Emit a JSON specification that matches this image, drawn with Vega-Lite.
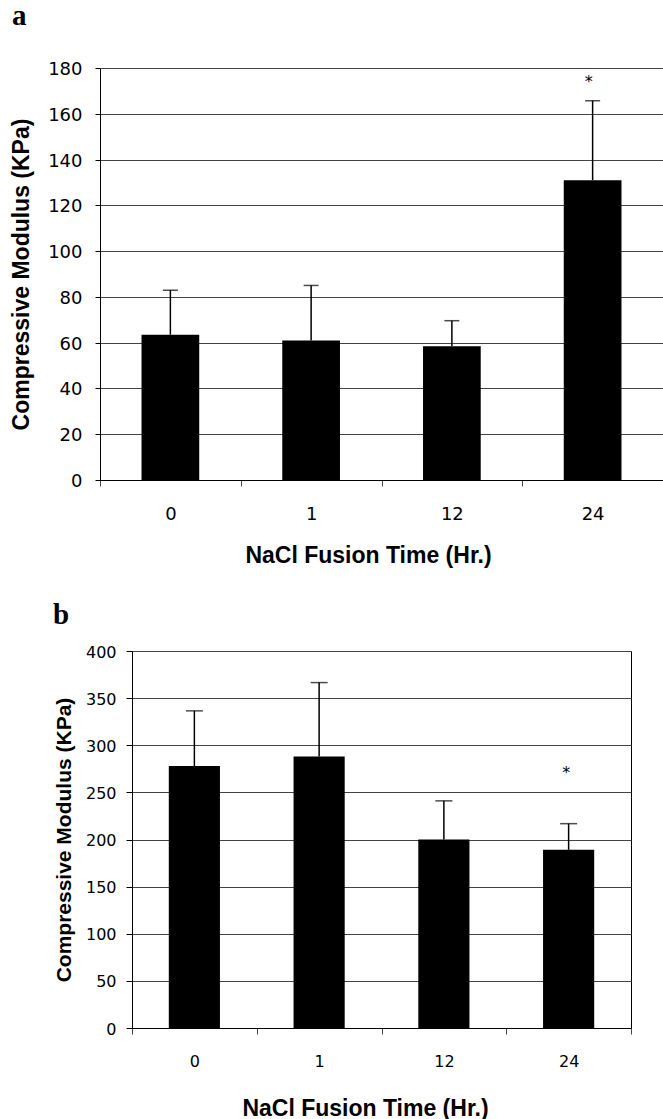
{
  "$schema": "https://vega.github.io/schema/vega-lite/v6.json",
  "background": "white",
  "autosize": {"type": "pad"},
  "padding": {"left": 9, "top": 1, "right": 0, "bottom": 0},
  "spacing": 171,
  "bounds": "flush",
  "center": true,
  "config": {
    "view": {"stroke": null},
    "axis": {"labelColor": "black", "titleColor": "black", "domainColor": "black", "tickColor": "black", "gridColor": "#444444", "gridWidth": 1, "labelFlush": false, "labelOverlap": false}
  },
  "vconcat": [
    {
      "width": 563,
      "height": 412,
      "title": {"text": "a", "anchor": "start", "frame": "group", "dx": -88, "offset": 7, "baseline": "alphabetic", "font": "Liberation Serif", "fontSize": 29, "fontWeight": "bold", "color": "black"},
      "data": {"values": [
        {"hr": "0", "mean": 63.5, "upper": 82.9, "sig": ""},
        {"hr": "1", "mean": 60.9, "upper": 85.0, "sig": ""},
        {"hr": "12", "mean": 58.4, "upper": 69.6, "sig": ""},
        {"hr": "24", "mean": 131.0, "upper": 165.7, "sig": "*"}
      ]},
      "encoding": {
        "x": {"field": "hr", "type": "ordinal", "sort": null, "scale": {"paddingInner": 0, "paddingOuter": 0},
          "axis": {"title": "NaCl Fusion Time (Hr.)", "labelAngle": 0, "labelFont": "DejaVu Sans", "labelFontSize": 18, "tickSize": 6, "tickBand": "extent", "tickColor": "#444444", "labelPadding": 19, "titleFont": "Liberation Sans", "titleFontSize": 23, "titleFontWeight": "bold", "titleX": 268, "titleY": 82, "titleBaseline": "alphabetic", "titleAlign": "center"}}
      },
      "layer": [
        {"mark": {"type": "bar", "color": "black", "width": {"band": 0.41}},
          "encoding": {"y": {"field": "mean", "type": "quantitative", "title": "Compressive Modulus (KPa)", "scale": {"domain": [0, 180]},
            "axis": {"values": [0, 20, 40, 60, 80, 100, 120, 140, 160, 180], "grid": true, "labelFont": "DejaVu Sans", "labelFontSize": 18, "tickSize": 5, "labelPadding": 13, "labelOffset": 1.5, "titleFont": "Liberation Sans", "titleFontSize": 23, "titleFontWeight": "bold", "titleX": -79, "titleBaseline": "middle"}}}},
        {"mark": {"type": "rule", "color": "black", "strokeWidth": 1.5},
          "encoding": {"y": {"field": "mean", "type": "quantitative", "title": "Compressive Modulus (KPa)"}, "y2": {"field": "upper"}}},
        {"mark": {"type": "tick", "color": "black", "thickness": 1.5, "size": 15},
          "encoding": {"y": {"field": "upper", "type": "quantitative", "title": "Compressive Modulus (KPa)"}}},
        {"mark": {"type": "text", "font": "DejaVu Sans", "fontSize": 16, "color": "black", "dx": -4, "dy": -19, "baseline": "middle"},
          "encoding": {"y": {"field": "upper", "type": "quantitative", "title": "Compressive Modulus (KPa)"}, "text": {"field": "sig"}}}
      ]
    },
    {
      "width": 499,
      "height": 377,
      "view": {"stroke": "black", "strokeWidth": 1},
      "title": {"text": "b", "anchor": "start", "frame": "group", "dx": -79, "offset": -29, "baseline": "alphabetic", "font": "Liberation Serif", "fontSize": 29, "fontWeight": "bold", "color": "black"},
      "data": {"values": [
        {"hr": "0", "mean": 278, "upper": 336.5, "sig": ""},
        {"hr": "1", "mean": 288, "upper": 366.5, "sig": ""},
        {"hr": "12", "mean": 200, "upper": 241, "sig": ""},
        {"hr": "24", "mean": 189, "upper": 216.8, "sig": "*"}
      ]},
      "encoding": {
        "x": {"field": "hr", "type": "ordinal", "sort": null, "scale": {"paddingInner": 0, "paddingOuter": 0},
          "axis": {"title": "NaCl Fusion Time (Hr.)", "labelAngle": 0, "labelFont": "DejaVu Sans", "labelFontSize": 16, "tickSize": 6, "tickBand": "extent", "tickColor": "#444444", "labelPadding": 19, "titleFont": "Liberation Sans", "titleFontSize": 23, "titleFontWeight": "bold", "titleX": 233, "titleY": 87, "titleBaseline": "alphabetic", "titleAlign": "center"}}
      },
      "layer": [
        {"mark": {"type": "bar", "color": "black", "width": {"band": 0.41}},
          "encoding": {"y": {"field": "mean", "type": "quantitative", "title": "Compressive Modulus (KPa)", "scale": {"domain": [0, 400]},
            "axis": {"values": [0, 50, 100, 150, 200, 250, 300, 350, 400], "grid": true, "labelFont": "DejaVu Sans", "labelFontSize": 16, "tickSize": 6, "labelPadding": 10, "labelOffset": 1, "titleFont": "Liberation Sans", "titleFontSize": 21, "titleFontWeight": "bold", "titleX": -68, "titleBaseline": "middle"}}}},
        {"mark": {"type": "rule", "color": "black", "strokeWidth": 1.5},
          "encoding": {"y": {"field": "mean", "type": "quantitative", "title": "Compressive Modulus (KPa)"}, "y2": {"field": "upper"}}},
        {"mark": {"type": "tick", "color": "black", "thickness": 1.5, "size": 17},
          "encoding": {"y": {"field": "upper", "type": "quantitative", "title": "Compressive Modulus (KPa)"}}},
        {"mark": {"type": "text", "font": "DejaVu Sans", "fontSize": 16, "color": "black", "dx": -2.5, "dy": -51, "baseline": "middle"},
          "encoding": {"y": {"field": "upper", "type": "quantitative", "title": "Compressive Modulus (KPa)"}, "text": {"field": "sig"}}}
      ]
    }
  ]
}
